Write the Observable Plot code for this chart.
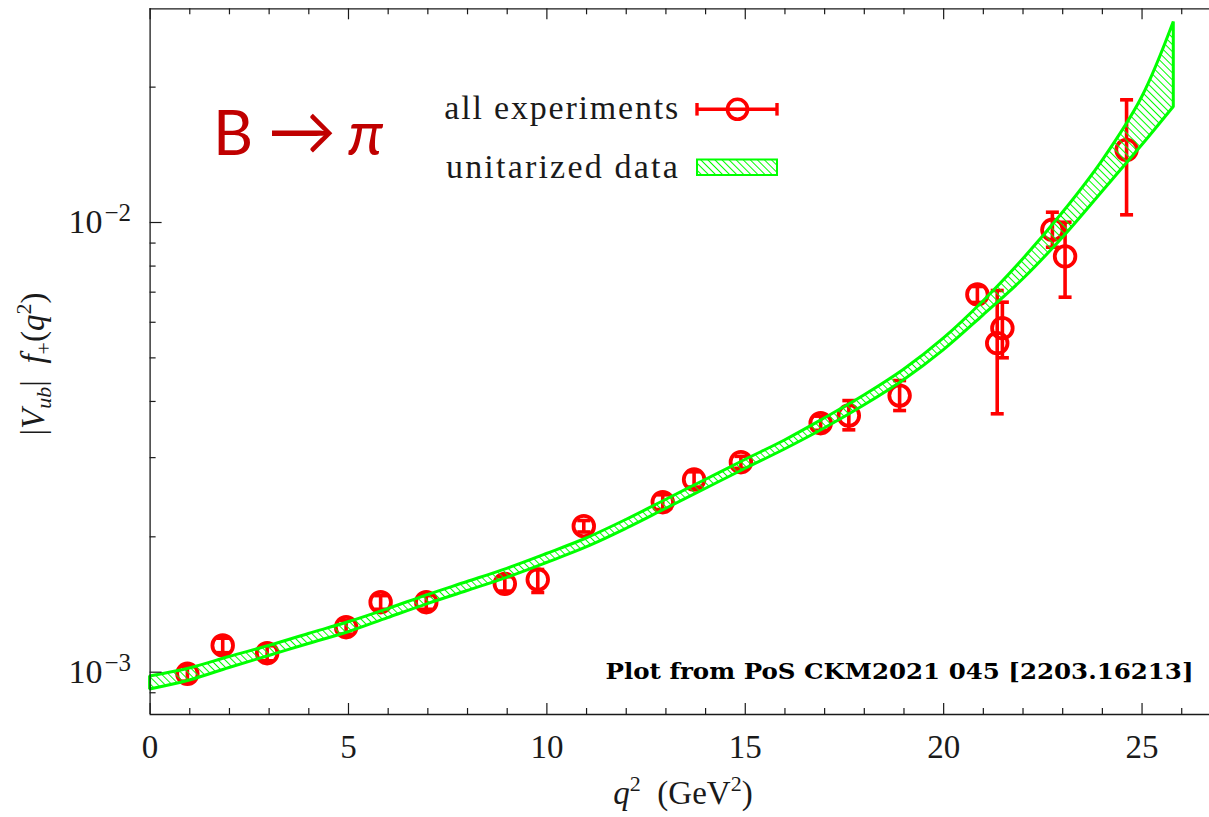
<!DOCTYPE html>
<html><head><meta charset="utf-8">
<script src="https://cdn.jsdelivr.net/npm/d3@7"></script>
<script src="https://cdn.jsdelivr.net/npm/@observablehq/plot@0.6"></script>
<style>
html,body{margin:0;padding:0;background:#fff;overflow:hidden;}
#chart{width:1209px;height:817px;position:relative;}
</style></head><body><div id="chart"></div>
<script>
// ---- experimental points: q^2 (GeV^2), |Vub| f+(q^2) with lower / upper error ends
const q2 = [0.94, 1.83, 2.95, 4.94, 5.81, 6.96, 8.94, 9.77, 10.93, 12.92, 13.71, 14.89, 16.90, 17.61, 18.89, 20.85, 21.35, 21.48, 22.74, 23.06, 24.61];
const fVal = [0.992e-3, 1.147e-3, 1.102e-3, 1.259e-3, 1.431e-3, 1.431e-3, 1.572e-3, 1.607e-3, 2.112e-3, 2.388e-3, 2.682e-3, 2.931e-3, 3.578e-3, 3.722e-3, 4.122e-3, 6.917e-3, 5.390e-3, 5.820e-3, 9.633e-3, 8.403e-3, 14.506e-3];
const fLo  = [0.955e-3, 1.105e-3, 1.060e-3, 1.215e-3, 1.380e-3, 1.380e-3, 1.515e-3, 1.504e-3, 2.050e-3, 2.300e-3, 2.580e-3, 2.840e-3, 3.450e-3, 3.459e-3, 3.818e-3, 6.640e-3, 3.755e-3, 5.002e-3, 8.811e-3, 6.822e-3, 10.402e-3];
const fHi  = [1.030e-3, 1.190e-3, 1.145e-3, 1.305e-3, 1.480e-3, 1.480e-3, 1.630e-3, 1.692e-3, 2.174e-3, 2.480e-3, 2.790e-3, 3.020e-3, 3.710e-3, 4.018e-3, 4.452e-3, 7.206e-3, 7.060e-3, 6.650e-3, 10.541e-3, 10.015e-3, 18.742e-3];

// ---- unitarized band
const bandQ2 = [0, 1, 2, 3, 4, 5, 6, 7, 8, 9, 10, 11, 12, 13, 14, 15, 16, 17, 18, 19, 20, 21, 22, 23, 24, 25, 25.8];
const bandLo = [0.9153e-3, 0.9584e-3, 1.0217e-3, 1.0864e-3, 1.1554e-3, 1.2271e-3, 1.3194e-3, 1.4173e-3, 1.5152e-3, 1.6212e-3, 1.7490e-3, 1.8936e-3, 2.0816e-3, 2.3061e-3, 2.5550e-3, 2.8303e-3, 3.1274e-3, 3.4822e-3, 3.9167e-3, 4.4592e-3, 5.1978e-3, 6.2112e-3, 7.4687e-3, 9.2372e-3, 11.693e-3, 14.829e-3, 18.064e-3];
const bandHi = [0.9782e-3, 1.0191e-3, 1.0809e-3, 1.1436e-3, 1.2160e-3, 1.2915e-3, 1.3817e-3, 1.4842e-3, 1.5867e-3, 1.6979e-3, 1.8316e-3, 1.9829e-3, 2.1798e-3, 2.4149e-3, 2.6756e-3, 2.9639e-3, 3.2750e-3, 3.6652e-3, 4.1224e-3, 4.7033e-3, 5.5162e-3, 6.6738e-3, 8.2752e-3, 10.498e-3, 13.699e-3, 18.965e-3, 27.915e-3];

// ---- axes
const xDomain = [0, 26.7];
const yDomain = [0.8052e-3, 29.87e-3];
const xMajorTicks = [0, 5, 10, 15, 20, 25];
const xMinorTicks = [1, 2, 3, 4, 6, 7, 8, 9, 11, 12, 13, 14, 16, 17, 18, 19, 21, 22, 23, 24, 26];
const yMajorTicks = [1e-3, 1e-2];
const yMinorTicks = [9e-4, 2e-3, 3e-3, 4e-3, 5e-3, 6e-3, 7e-3, 8e-3, 9e-3, 2e-2];
const yTickBase = ["10", "10"];
const yTickExp = ["\u22123", "\u22122"];

// ---- texts
const legendLabels = ["all experiments", "unitarized data"];
const processLabel = ["B", "\u2192", "\u03c0"];
const captionText = "Plot from PoS CKM2021 045 [2203.16213]";

const points = q2.map((q, i) => ({q2: q, f: fVal[i], lo: fLo[i], hi: fHi[i]}));
const band = bandQ2.map((q, i) => ({q2: q, lo: bandLo[i], hi: bandHi[i]}));

const RED = "#ff0000", GREEN = "#00ff00", AX = "#1a1a1a";
const mL = 149.6, mT = 8.3, mB = 103, mR = 0, WIDTH = 1209, HEIGHT = 817;
const FH = HEIGHT - mT - mB, FW = WIDTH - mL - mR;

const capSymbol = { draw(ctx) { ctx.moveTo(-6.5, 0); ctx.lineTo(6.5, 0); } };

const svg = Plot.plot({
  width: WIDTH, height: HEIGHT,
  marginLeft: mL, marginTop: mT, marginBottom: mB, marginRight: mR,
  style: {fontFamily: "'Liberation Serif', serif", fontSize: "33px", color: AX, background: "white", overflow: "visible"},
  x: {domain: xDomain, axis: null},
  y: {type: "log", domain: yDomain, axis: null},
  marks: [
    // error bars
    Plot.ruleX(points, {x: "q2", y1: "lo", y2: "hi", stroke: RED, strokeWidth: 3.6}),
    Plot.dot(points, {x: "q2", y: "lo", symbol: capSymbol, r: 6, fill: "none", stroke: RED, strokeWidth: 3.6}),
    Plot.dot(points, {x: "q2", y: "hi", symbol: capSymbol, r: 6, fill: "none", stroke: RED, strokeWidth: 3.6}),
    Plot.dot(points, {x: "q2", y: "f", r: 10.3, fill: "none", stroke: RED, strokeWidth: 3.8}),
    // band
    Plot.areaY(band, {x: "q2", y1: "lo", y2: "hi", curve: "catmull-rom", fill: "url(#hatch)", stroke: GREEN, strokeWidth: 3, strokeLinejoin: "miter"}),
    // frame
    Plot.ruleY([yDomain[0], yDomain[1]], {stroke: AX, strokeWidth: 1.3}),
    Plot.ruleX([xDomain[0]], {stroke: AX, strokeWidth: 1.3}),
    // ticks (inward)
    Plot.tickX(xMajorTicks, {x: d => d, insetTop: FH - 11, stroke: AX, strokeWidth: 1.2}),
    Plot.tickX(xMinorTicks, {x: d => d, insetTop: FH - 6, stroke: AX, strokeWidth: 1.2}),
    Plot.tickX(xMajorTicks, {x: d => d, insetBottom: FH - 11, stroke: AX, strokeWidth: 1.2}),
    Plot.tickX(xMinorTicks, {x: d => d, insetBottom: FH - 6, stroke: AX, strokeWidth: 1.2}),
    Plot.tickY(yMajorTicks, {y: d => d, insetRight: FW - 12, stroke: AX, strokeWidth: 1.2}),
    Plot.tickY(yMinorTicks, {y: d => d, insetRight: FW - 6, stroke: AX, strokeWidth: 1.2}),
    // tick labels
    Plot.text(xMajorTicks, {x: d => d, frameAnchor: "bottom", dy: 33, lineAnchor: "middle", text: d => String(d), fill: AX}),
    Plot.text(yMajorTicks, {y: d => d, frameAnchor: "left", dx: -19, lineAnchor: "middle", textAnchor: "end", text: (d, i) => yTickBase[i] + yTickExp[i], fill: AX, fontSize: 34}),
    // caption
    Plot.text([captionText], {frameAnchor: "bottom-right", dx: -16, dy: -36, text: d => d, textAnchor: "end", lineAnchor: "bottom", fontFamily: "'DejaVu Serif', serif", fontWeight: "bold", fontSize: 23, fill: "#000"})
  ]
});

document.getElementById("chart").appendChild(svg);
const s = d3.select(svg);

// hatch pattern
const defs = s.insert("defs", ":first-child");
const pat = defs.append("pattern").attr("id", "hatch").attr("patternUnits", "userSpaceOnUse")
  .attr("width", 5).attr("height", 5).attr("patternTransform", "rotate(45)");
pat.append("line").attr("x1", -1).attr("y1", 2.5).attr("x2", 6).attr("y2", 2.5).attr("stroke", GREEN).attr("stroke-width", 1);

// superscripted y tick labels
yMajorTicks.forEach((v, i) => {
  s.selectAll("text").filter(function() { return this.textContent === yTickBase[i] + yTickExp[i]; }).each(function() {
    const t = d3.select(this);
    t.text(null);
    t.append("tspan").text(yTickBase[i]);
    t.append("tspan").text(yTickExp[i]).attr("font-size", 25).attr("dx", 2).attr("dy", -12);
  });
});

// caption width
s.selectAll("text").filter(function() { return this.textContent === captionText; })
  .attr("textLength", 588).attr("lengthAdjust", "spacingAndGlyphs");

function rich(sel, parts) {
  parts.forEach(p => {
    const t = sel.append("tspan").text(p.t);
    if (p.i) t.attr("font-style", "italic");
    if (p.fs) t.attr("font-size", p.fs);
    if (p.dy) t.attr("dy", p.dy);
  });
}
const g = s.append("g").attr("fill", AX).attr("font-family", "'Liberation Serif', serif").attr("font-size", 33);

// x axis label
rich(g.append("text").attr("x", 683).attr("y", 804).attr("text-anchor", "middle"), [
  {t: "q", i: 1}, {t: "2", fs: 22, dy: -13}, {t: "\u2002(GeV", dy: 13}, {t: "2", fs: 22, dy: -13}, {t: ")", dy: 13}
]);
// y axis label
rich(g.append("text").attr("transform", "translate(44,364) rotate(-90)").attr("text-anchor", "middle"), [
  {t: "|"}, {t: "V", i: 1}, {t: "ub", i: 1, fs: 22, dy: 7}, {t: "|", dy: -7}, {t: "\u2002"}, {t: "f", i: 1}, {t: "+", fs: 22, dy: 7}, {t: "(", dy: -7}, {t: "q", i: 1}, {t: "2", fs: 22, dy: -13}, {t: ")", dy: 13}
]);

// legend
g.append("text").attr("x", 680).attr("y", 119).attr("text-anchor", "end").attr("font-size", 34).attr("letter-spacing", 1.8).text(legendLabels[0]);
g.append("text").attr("x", 680).attr("y", 178).attr("text-anchor", "end").attr("font-size", 34).attr("letter-spacing", 2.2).text(legendLabels[1]);
const lg = s.append("g");
lg.append("line").attr("x1", 697).attr("x2", 777).attr("y1", 109.3).attr("y2", 109.3).attr("stroke", RED).attr("stroke-width", 3.4);
lg.append("line").attr("x1", 697).attr("x2", 697).attr("y1", 103).attr("y2", 115.6).attr("stroke", RED).attr("stroke-width", 3.4);
lg.append("line").attr("x1", 777).attr("x2", 777).attr("y1", 103).attr("y2", 115.6).attr("stroke", RED).attr("stroke-width", 3.4);
lg.append("circle").attr("cx", 737.5).attr("cy", 109.3).attr("r", 10).attr("fill", "none").attr("stroke", RED).attr("stroke-width", 3.6);
lg.append("rect").attr("x", 697).attr("y", 159.5).attr("width", 80).attr("height", 15.5).attr("fill", "url(#hatch)").attr("stroke", GREEN).attr("stroke-width", 2);

// process label B -> pi
const pt = s.append("text").attr("y", 155).attr("text-anchor", "start").attr("fill", "#c00000").attr("font-family", "Lato, 'Open Sans', 'DejaVu Sans', sans-serif").attr("font-size", 62);
pt.append("tspan").attr("x", 213).text(processLabel[0]);
pt.append("tspan").attr("x", 268).attr("font-size", 68).text(processLabel[1]);
pt.append("tspan").attr("x", 348).attr("font-style", "italic").text(processLabel[2]);
</script>
</body></html>
